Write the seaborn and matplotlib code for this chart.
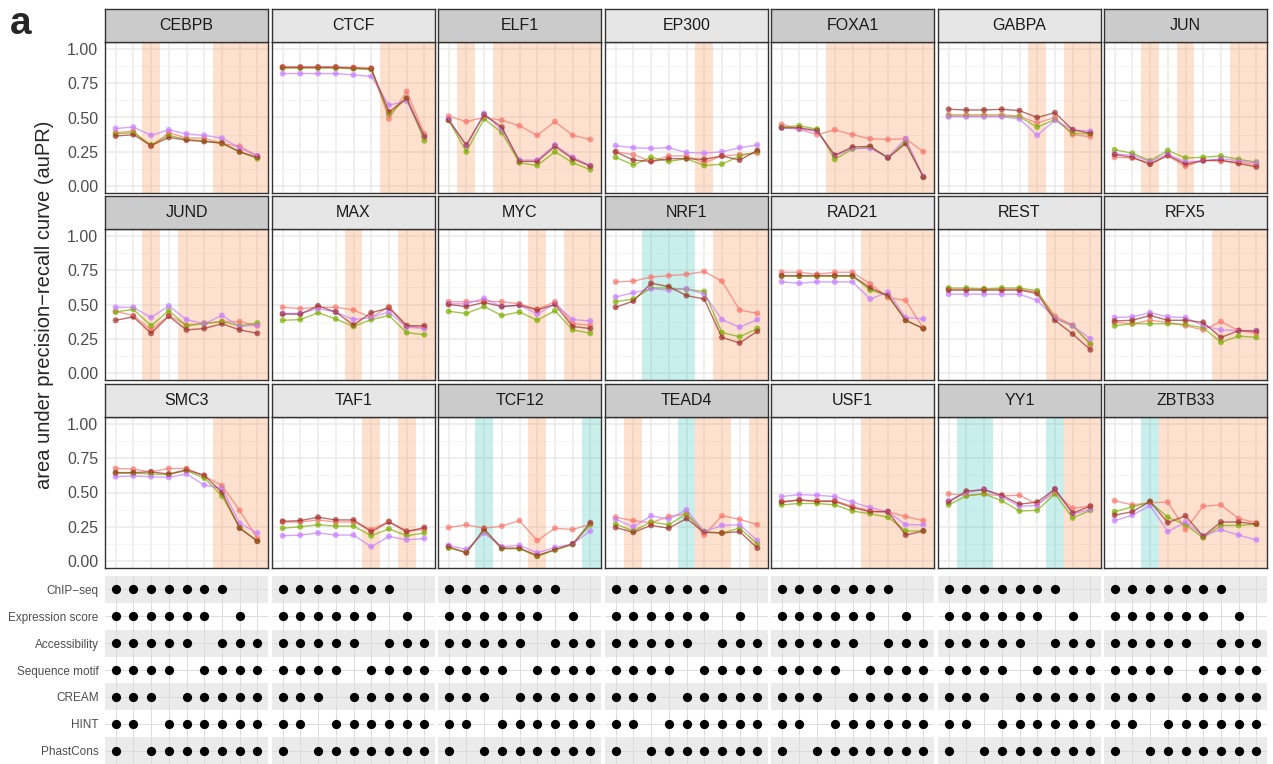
import numpy as np
import pandas as pd
import matplotlib
matplotlib.use('Agg')
import matplotlib.pyplot as plt
import seaborn as sns

# series order in every panel list: salmon, green, purple, dark red
models = ['m1', 'm2', 'm3', 'm4']
model_colors = ['#F8766D', '#7CAE00', '#C77CFF', '#A0302B']

combos = [1, 2, 3, 4, 5, 6, 7, 8, 9]

CEBPB = [[0.39, 0.40, 0.29, 0.39, 0.35, 0.35, 0.31, 0.29, 0.22],
         [0.38, 0.39, 0.30, 0.37, 0.34, 0.33, 0.31, 0.25, 0.20],
         [0.42, 0.43, 0.37, 0.41, 0.38, 0.37, 0.35, 0.28, 0.22],
         [0.365, 0.375, 0.295, 0.355, 0.335, 0.325, 0.315, 0.25, 0.21]]
CTCF = [[0.87, 0.87, 0.87, 0.87, 0.865, 0.86, 0.49, 0.69, 0.38],
        [0.86, 0.86, 0.86, 0.86, 0.855, 0.85, 0.52, 0.64, 0.33],
        [0.82, 0.82, 0.82, 0.82, 0.81, 0.80, 0.59, 0.62, 0.36],
        [0.865, 0.865, 0.865, 0.865, 0.86, 0.855, 0.54, 0.64, 0.36]]
ELF1 = [[0.51, 0.47, 0.50, 0.48, 0.44, 0.37, 0.47, 0.37, 0.34],
        [0.48, 0.25, 0.49, 0.39, 0.17, 0.15, 0.25, 0.17, 0.12],
        [0.49, 0.29, 0.53, 0.41, 0.19, 0.19, 0.30, 0.21, 0.15],
        [0.48, 0.30, 0.52, 0.43, 0.18, 0.18, 0.29, 0.20, 0.145]]
EP300 = [[0.25, 0.23, 0.18, 0.22, 0.22, 0.17, 0.22, 0.23, 0.24],
         [0.21, 0.155, 0.21, 0.18, 0.20, 0.15, 0.16, 0.22, 0.25],
         [0.295, 0.28, 0.275, 0.28, 0.245, 0.24, 0.25, 0.28, 0.30],
         [0.25, 0.19, 0.18, 0.20, 0.20, 0.195, 0.22, 0.19, 0.26]]
FOXA1 = [[0.45, 0.415, 0.375, 0.41, 0.375, 0.345, 0.34, 0.345, 0.25],
         [0.43, 0.44, 0.415, 0.195, 0.27, 0.285, 0.21, 0.325, 0.065],
         [0.425, 0.415, 0.40, 0.22, 0.275, 0.275, 0.21, 0.345, 0.07],
         [0.425, 0.425, 0.405, 0.225, 0.285, 0.29, 0.205, 0.31, 0.065]]
GABPA = [[0.52, 0.52, 0.52, 0.52, 0.51, 0.46, 0.50, 0.375, 0.36],
         [0.51, 0.51, 0.51, 0.51, 0.505, 0.43, 0.485, 0.385, 0.38],
         [0.505, 0.505, 0.505, 0.505, 0.49, 0.37, 0.48, 0.41, 0.40],
         [0.56, 0.555, 0.555, 0.56, 0.55, 0.50, 0.535, 0.41, 0.385]]
JUN = [[0.21, 0.205, 0.165, 0.22, 0.145, 0.19, 0.18, 0.175, 0.155],
       [0.265, 0.24, 0.185, 0.26, 0.205, 0.21, 0.22, 0.195, 0.175],
       [0.235, 0.225, 0.18, 0.235, 0.175, 0.185, 0.20, 0.185, 0.17],
       [0.23, 0.21, 0.16, 0.225, 0.16, 0.185, 0.19, 0.165, 0.14]]
JUND = [[0.45, 0.42, 0.315, 0.42, 0.35, 0.365, 0.375, 0.375, 0.345],
        [0.445, 0.465, 0.345, 0.455, 0.345, 0.36, 0.375, 0.345, 0.365],
        [0.48, 0.48, 0.405, 0.49, 0.39, 0.36, 0.42, 0.34, 0.35],
        [0.385, 0.41, 0.29, 0.415, 0.315, 0.325, 0.36, 0.315, 0.29]]
MAX = [[0.48, 0.47, 0.48, 0.48, 0.46, 0.405, 0.485, 0.345, 0.33],
       [0.385, 0.39, 0.44, 0.395, 0.34, 0.39, 0.42, 0.295, 0.28],
       [0.435, 0.435, 0.47, 0.445, 0.39, 0.405, 0.445, 0.335, 0.325],
       [0.43, 0.43, 0.49, 0.445, 0.35, 0.44, 0.475, 0.345, 0.345]]
MYC = [[0.52, 0.52, 0.525, 0.52, 0.505, 0.465, 0.52, 0.36, 0.35],
       [0.45, 0.435, 0.485, 0.42, 0.445, 0.385, 0.455, 0.315, 0.29],
       [0.505, 0.505, 0.545, 0.485, 0.495, 0.43, 0.505, 0.39, 0.38],
       [0.50, 0.485, 0.515, 0.485, 0.495, 0.46, 0.50, 0.34, 0.325]]
NRF1 = [[0.665, 0.67, 0.70, 0.71, 0.72, 0.74, 0.67, 0.46, 0.435],
        [0.52, 0.54, 0.62, 0.62, 0.61, 0.595, 0.295, 0.265, 0.325],
        [0.555, 0.585, 0.615, 0.605, 0.615, 0.575, 0.39, 0.335, 0.39],
        [0.48, 0.525, 0.655, 0.63, 0.565, 0.54, 0.26, 0.22, 0.305]]
RAD21 = [[0.735, 0.735, 0.72, 0.735, 0.735, 0.65, 0.55, 0.53, 0.325],
         [0.705, 0.705, 0.705, 0.705, 0.705, 0.605, 0.565, 0.385, 0.325],
         [0.665, 0.655, 0.665, 0.665, 0.665, 0.54, 0.59, 0.405, 0.395],
         [0.71, 0.71, 0.71, 0.71, 0.71, 0.62, 0.565, 0.385, 0.325]]
REST = [[0.61, 0.61, 0.61, 0.61, 0.61, 0.59, 0.415, 0.35, 0.205],
        [0.62, 0.62, 0.615, 0.62, 0.62, 0.60, 0.40, 0.345, 0.215],
        [0.575, 0.575, 0.575, 0.575, 0.575, 0.53, 0.40, 0.345, 0.25],
        [0.605, 0.605, 0.605, 0.605, 0.605, 0.58, 0.385, 0.285, 0.17]]
RFX5 = [[0.37, 0.36, 0.385, 0.37, 0.345, 0.315, 0.375, 0.31, 0.29],
        [0.345, 0.36, 0.36, 0.36, 0.355, 0.33, 0.225, 0.27, 0.26],
        [0.405, 0.41, 0.44, 0.41, 0.405, 0.345, 0.315, 0.31, 0.31],
        [0.38, 0.385, 0.42, 0.385, 0.385, 0.37, 0.26, 0.31, 0.305]]
SMC3 = [[0.675, 0.67, 0.65, 0.675, 0.675, 0.62, 0.55, 0.37, 0.165],
        [0.64, 0.64, 0.635, 0.63, 0.66, 0.605, 0.475, 0.245, 0.145],
        [0.615, 0.62, 0.615, 0.61, 0.635, 0.555, 0.53, 0.275, 0.205],
        [0.645, 0.645, 0.65, 0.635, 0.665, 0.625, 0.50, 0.24, 0.145]]
TAF1 = [[0.285, 0.285, 0.30, 0.285, 0.285, 0.23, 0.29, 0.22, 0.23],
        [0.24, 0.25, 0.265, 0.255, 0.255, 0.185, 0.235, 0.185, 0.205],
        [0.185, 0.19, 0.205, 0.19, 0.19, 0.105, 0.18, 0.155, 0.165],
        [0.29, 0.295, 0.32, 0.30, 0.30, 0.215, 0.285, 0.215, 0.245]]
TCF12 = [[0.245, 0.265, 0.24, 0.255, 0.295, 0.15, 0.24, 0.23, 0.27],
         [0.095, 0.065, 0.22, 0.09, 0.09, 0.035, 0.08, 0.12, 0.265],
         [0.115, 0.085, 0.205, 0.105, 0.115, 0.06, 0.10, 0.125, 0.22],
         [0.105, 0.06, 0.235, 0.095, 0.095, 0.04, 0.085, 0.125, 0.28]]
TEAD4 = [[0.32, 0.295, 0.28, 0.325, 0.345, 0.19, 0.33, 0.305, 0.265],
         [0.27, 0.22, 0.285, 0.265, 0.345, 0.215, 0.205, 0.24, 0.125],
         [0.305, 0.25, 0.33, 0.305, 0.375, 0.215, 0.26, 0.265, 0.15],
         [0.245, 0.21, 0.26, 0.24, 0.31, 0.21, 0.205, 0.215, 0.095]]
USF1 = [[0.435, 0.445, 0.44, 0.44, 0.40, 0.365, 0.36, 0.325, 0.295],
        [0.41, 0.42, 0.42, 0.41, 0.365, 0.345, 0.32, 0.22, 0.22],
        [0.47, 0.485, 0.48, 0.47, 0.43, 0.39, 0.36, 0.265, 0.265],
        [0.43, 0.445, 0.435, 0.435, 0.39, 0.36, 0.36, 0.19, 0.22]]
YY1 = [[0.49, 0.48, 0.49, 0.475, 0.48, 0.415, 0.50, 0.385, 0.40],
       [0.41, 0.475, 0.49, 0.44, 0.365, 0.37, 0.49, 0.315, 0.37],
       [0.44, 0.50, 0.525, 0.47, 0.40, 0.405, 0.525, 0.345, 0.375],
       [0.43, 0.51, 0.52, 0.48, 0.415, 0.43, 0.525, 0.35, 0.40]]
ZBTB33 = [[0.44, 0.41, 0.425, 0.43, 0.23, 0.40, 0.41, 0.31, 0.28],
          [0.36, 0.395, 0.43, 0.32, 0.265, 0.17, 0.26, 0.26, 0.27],
          [0.295, 0.335, 0.405, 0.215, 0.285, 0.185, 0.23, 0.19, 0.155],
          [0.335, 0.36, 0.435, 0.28, 0.33, 0.18, 0.285, 0.285, 0.27]]

tfs = ['CEBPB', 'CTCF', 'ELF1', 'EP300', 'FOXA1', 'GABPA', 'JUN',
       'JUND', 'MAX', 'MYC', 'NRF1', 'RAD21', 'REST', 'RFX5',
       'SMC3', 'TAF1', 'TCF12', 'TEAD4', 'USF1', 'YY1', 'ZBTB33']
panel_values = [CEBPB, CTCF, ELF1, EP300, FOXA1, GABPA, JUN,
                JUND, MAX, MYC, NRF1, RAD21, REST, RFX5,
                SMC3, TAF1, TCF12, TEAD4, USF1, YY1, ZBTB33]

dark_strips = ['CEBPB', 'ELF1', 'FOXA1', 'JUN', 'JUND', 'NRF1',
               'TCF12', 'TEAD4', 'YY1', 'ZBTB33']

orange_bands = {
    'CEBPB': [3, 7, 8, 9], 'CTCF': [7, 8, 9], 'ELF1': [2, 4, 5, 6, 7, 8, 9],
    'EP300': [6], 'FOXA1': [4, 5, 6, 7, 8, 9], 'GABPA': [6, 8, 9],
    'JUN': [3, 5, 8, 9], 'JUND': [3, 5, 6, 7, 8, 9], 'MAX': [5, 8, 9],
    'MYC': [6, 8, 9], 'NRF1': [7, 8, 9], 'RAD21': [6, 7, 8, 9],
    'REST': [7, 8, 9], 'RFX5': [7, 8, 9], 'SMC3': [7, 8, 9], 'TAF1': [6, 8],
    'TCF12': [6], 'TEAD4': [2, 6, 7, 9], 'USF1': [6, 7, 8, 9],
    'YY1': [8, 9], 'ZBTB33': [4, 5, 6, 7, 8, 9],
}
teal_bands = {'NRF1': [3, 4, 5], 'TCF12': [3, 9], 'TEAD4': [5],
              'YY1': [2, 3, 7], 'ZBTB33': [3]}

features = ['ChIP\u2212seq', 'Expression score', 'Accessibility',
            'Sequence motif', 'CREAM', 'HINT', 'PhastCons']
chipseq = [1, 1, 1, 1, 1, 1, 1, 0, 0]
expression = [1, 1, 1, 1, 1, 1, 0, 1, 0]
accessibility = [1, 1, 1, 1, 1, 0, 1, 1, 1]
motif = [1, 1, 1, 1, 0, 1, 1, 1, 1]
cream = [1, 1, 1, 0, 1, 1, 1, 1, 1]
hint = [1, 1, 0, 1, 1, 1, 1, 1, 1]
phastcons = [1, 0, 1, 1, 1, 1, 1, 1, 1]
membership = [chipseq, expression, accessibility, motif, cream, hint, phastcons]

# long tables
rows = []
for tf, vals in zip(tfs, panel_values):
    for m, series in zip(models, vals):
        for x, v in zip(combos, series):
            rows.append((tf, m, x, v))
df = pd.DataFrame(rows, columns=['tf', 'model', 'combo', 'auPR'])

dots = []
for fi, mem in enumerate(membership):
    for x, on in zip(combos, mem):
        if on:
            dots.append((fi, x))
dots_df = pd.DataFrame(dots, columns=['feature', 'combo'])

sns.set_style('white')
plt.rcParams['font.family'] = ['Liberation Sans', 'DejaVu Sans']

W, H = 1273, 764
fig = plt.figure(figsize=(W / 100, H / 100), dpi=100)


def box(l, t, w, h):
    return [l / W, 1 - (t + h) / H, w / W, h / H]


col_left = [105, 272, 438, 605, 771, 938, 1104]
panel_w = 163
row_top = [42, 229, 417]
panel_h = 151
strip_h = 33
mat_top = 576
mat_h = 188
xlo, xhi = 0.4, 9.6
pal = dict(zip(models, model_colors))

for i, tf in enumerate(tfs):
    r, c = divmod(i, 7)
    ax = fig.add_axes(box(col_left[c], row_top[r], panel_w, panel_h))
    ax.set_facecolor('white')
    ax.set_axisbelow(True)
    for bands, col, a in ((orange_bands, '#FB9A5A', 0.3), (teal_bands, '#2EC4B6', 0.26)):
        for p in bands.get(tf, []):
            lo = p - 0.5 if p > 1 else xlo
            hi = p + 0.5 if p < 9 else xhi
            ax.axvspan(lo, hi, color=col, alpha=a, lw=0, zorder=0.8)
    sub = df[df.tf == tf]
    sns.lineplot(data=sub, x='combo', y='auPR', hue='model', hue_order=models,
                 palette=pal, ax=ax, legend=False, alpha=0.7, linewidth=1.0)
    sns.scatterplot(data=sub, x='combo', y='auPR', hue='model', hue_order=models,
                    palette=pal, ax=ax, legend=False, alpha=0.7, s=18, linewidth=0)
    ax.set_xlim(xlo, xhi)
    ax.set_ylim(-0.05, 1.05)
    ax.set_xticks(combos)
    ax.set_yticks([0, 0.25, 0.5, 0.75, 1.0])
    ax.set_yticks([0.125, 0.375, 0.625, 0.875], minor=True)
    ax.grid(which='major', color='#ebebeb', lw=1.1)
    ax.grid(which='minor', axis='y', color='#f4f4f4', lw=0.6)
    ax.set_xlabel('')
    ax.set_ylabel('')
    ax.tick_params(axis='x', labelbottom=False, length=3 if r == 2 else 0,
                   color='#333333', width=0.8)
    ax.tick_params(axis='y', which='major', length=3 if c == 0 else 0,
                   color='#333333', width=0.8, labelsize=11.5,
                   labelcolor='#4d4d4d', pad=2, labelleft=(c == 0))
    ax.tick_params(axis='y', which='minor', length=0)
    if c == 0:
        ax.set_yticklabels(['0.00', '0.25', '0.50', '0.75', '1.00'])
    for s in ax.spines.values():
        s.set_color('#333333')
        s.set_linewidth(1.0)

    sax = fig.add_axes(box(col_left[c], row_top[r] - strip_h, panel_w, strip_h))
    sax.set_facecolor('#cbcbcb' if tf in dark_strips else '#e6e6e6')
    sax.set_xticks([])
    sax.set_yticks([])
    for s in sax.spines.values():
        s.set_color('#333333')
        s.set_linewidth(1.0)
    sax.text(0.5, 0.5, tf, ha='center', va='center', fontsize=11.5,
             color='#1a1a1a', transform=sax.transAxes)

# feature matrix under each column
for c in range(7):
    mx = fig.add_axes(box(col_left[c], mat_top, panel_w, mat_h))
    mx.set_facecolor('white')
    for k in (0, 2, 4, 6):
        mx.axhspan(k - 0.5, k + 0.5, color='#ebebeb', lw=0, zorder=0.2)
    mx.set_axisbelow(True)
    sns.scatterplot(data=dots_df, x='combo', y='feature', color='black',
                    s=44, linewidth=0, ax=mx, legend=False, zorder=3)
    mx.set_xlim(xlo, xhi)
    mx.set_ylim(6.5, -0.5)
    mx.set_xticks(combos)
    mx.set_yticks(range(7))
    mx.grid(color='#dcdcdc', lw=0.7)
    mx.set_xlabel('')
    mx.set_ylabel('')
    mx.tick_params(axis='x', length=0, labelbottom=False)
    if c == 0:
        mx.set_yticklabels(features)
        mx.tick_params(axis='y', length=2.5, color='#333333', labelsize=8.5,
                       labelcolor='#4d4d4d', pad=2)
    else:
        mx.tick_params(axis='y', length=0, labelleft=False)
    for s in mx.spines.values():
        s.set_visible(False)

fig.text(45 / W, 1 - 305 / H, 'area under precision\u2212recall curve (auPR)',
         rotation=90, ha='center', va='center', fontsize=14.5)
fig.text(10 / W, 1 - 34 / H, 'a', fontsize=28, fontweight='bold')

plt.savefig('out.png', dpi=100)
plt.close()
